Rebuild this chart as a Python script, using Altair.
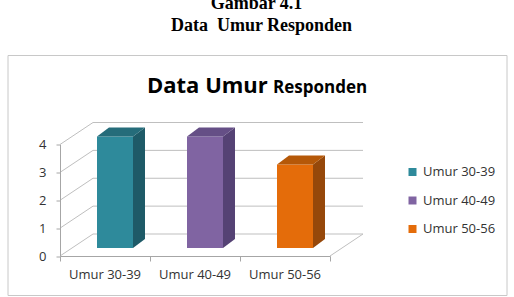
import altair as alt
import pandas as pd

# ---- data ----
categories = ["Umur 30-39", "Umur 40-49", "Umur 50-56"]
values = [4, 4, 3]
front_colors = ["#2E8A9B", "#8064A2", "#E46C0A"]
top_colors = ["#256C7A", "#654F86", "#B55808"]
side_colors = ["#1E5A67", "#554274", "#96480A"]
y_ticks = [0, 1, 2, 3, 4]
page_title = ["Gambar 4.1", "Data\u00a0 Umur Responden"]
chart_title = ["Data Umur", "Responden"]

# ---- geometry (styling, not data) ----
W, H = 270, 111.5
PADL, PADT = 60, 144.5
PX = W / 3.0
PY = H / 4.0
HALF = 0.2
SX, SY = 12 / PX, 9 / PY
BAR_DX, BAR_DY = 10, -8
WALL_DX, WALL_DY = 33, -22
AXIS_COL = "#A6A6A6"
GRID_COL = "#BFBFBF"
TXT_COL = "#333333"
FONT = "Open Sans"

pos = list(range(1, len(categories) + 1))
bars = pd.DataFrame({"cat": categories, "pos": pos, "value": values,
                     "front": front_colors, "side": side_colors, "top": top_colors})
bars["x0"] = bars["pos"] - HALF
bars["x1"] = bars["pos"] + HALF

side_rows, top_rows = [], []
for _, r in bars.iterrows():
    for e in (0, 1):
        side_rows.append({"cat": r["cat"], "side": r["side"], "x": r["x1"] + e * SX,
                          "y": r["value"] + e * SY, "y2": 0 + e * SY})
        top_rows.append({"cat": r["cat"], "top": r["top"], "y": r["value"] + e * SY,
                         "xa": r["x0"] + e * SX, "xb": r["x1"] + e * SX})
side_df = pd.DataFrame(side_rows)
top_df = pd.DataFrame(top_rows)
grid_df = pd.DataFrame({"v": y_ticks})
one = pd.DataFrame({"k": [0]})

xs = alt.Scale(domain=[0.5, len(categories) + 0.5], nice=False, zero=False)
ys = alt.Scale(domain=[0, 4], nice=False, zero=False)
xaxis = alt.Axis(values=[0.5, 1.5, 2.5, 3.5], labels=False, tickSize=5,
                 domainColor=AXIS_COL, tickColor=AXIS_COL, grid=False, title=None, zindex=1)
yaxis = alt.Axis(values=y_ticks, tickSize=4, labelPadding=10, labelFont=FONT,
                 labelFontSize=13, labelColor=TXT_COL, domainColor=AXIS_COL,
                 tickColor=AXIS_COL, grid=False, title=None, format="d", zindex=1)

frame = alt.Chart(one).mark_rect(filled=False, stroke="#C8C8C8", strokeWidth=1).encode(
    x=alt.value(8 - PADL), x2=alt.value(507 - PADL),
    y=alt.value(55.5 - PADT), y2=alt.value(295.5 - PADT))

t_page1 = alt.Chart(one).mark_text(font="Liberation Serif", fontWeight="bold", fontSize=18,
                                   align="center", baseline="alphabetic", color="black").encode(
    x=alt.value(256.5 - PADL), y=alt.value(8.5 - PADT), text=alt.value(page_title[0]))
t_page2 = alt.Chart(one).mark_text(font="Liberation Serif", fontWeight="bold", fontSize=18,
                                   align="center", baseline="alphabetic", color="black").encode(
    x=alt.value(261.5 - PADL), y=alt.value(30.5 - PADT), text=alt.value(page_title[1]))
t_ch1 = alt.Chart(one).mark_text(font=FONT, fontWeight="bold", fontSize=22,
                                 align="left", baseline="alphabetic", color="black").encode(
    x=alt.value(147 - PADL), y=alt.value(92.7 - PADT), text=alt.value(chart_title[0]))
t_ch2 = alt.Chart(one).mark_text(font=FONT, fontWeight="bold", fontSize=17,
                                 align="left", baseline="alphabetic", color="black").encode(
    x=alt.value(273 - PADL), y=alt.value(92.7 - PADT), text=alt.value(chart_title[1]))

# side wall diagonals
diag = alt.Chart(grid_df).mark_rule(color=GRID_COL, strokeWidth=1,
                                    x2Offset=WALL_DX, y2Offset=WALL_DY).encode(
    x=alt.X(datum=0.5, scale=xs, axis=xaxis), x2=alt.X2(datum=0.5),
    y=alt.Y("v:Q", scale=ys, axis=yaxis), y2="v:Q")

# back wall gridlines
back = alt.Chart(grid_df).mark_rule(color=GRID_COL, strokeWidth=1,
                                    xOffset=WALL_DX, x2Offset=WALL_DX,
                                    yOffset=WALL_DY, y2Offset=WALL_DY).encode(
    x=alt.X(datum=0.5, scale=xs, axis=xaxis),
    x2=alt.X2(datum=len(categories) + 0.5),
    y=alt.Y("v:Q", scale=ys, axis=yaxis))

floor = alt.Chart(one).mark_rule(color=GRID_COL, strokeWidth=1,
                                 x2Offset=WALL_DX, y2Offset=WALL_DY).encode(
    x=alt.X(datum=len(categories) + 0.5, scale=xs, axis=xaxis),
    x2=alt.X2(datum=len(categories) + 0.5),
    y=alt.Y(datum=0, scale=ys, axis=yaxis), y2=alt.Y2(datum=0))

front = alt.Chart(bars).mark_rect(xOffset=BAR_DX, x2Offset=BAR_DX,
                                  yOffset=BAR_DY, y2Offset=BAR_DY).encode(
    x=alt.X("x0:Q", scale=xs, axis=xaxis), x2="x1:Q",
    y=alt.Y("value:Q", scale=ys, axis=yaxis), y2=alt.Y2(datum=0),
    color=alt.Color("cat:N", scale=alt.Scale(domain=categories, range=front_colors),
                    legend=alt.Legend(orient="none", legendX=346, legendY=21, title=None,
                                      symbolType="square", symbolSize=64, symbolStrokeWidth=0,
                                      labelFont=FONT, labelFontSize=13, labelColor=TXT_COL,
                                      labelOffset=4, rowPadding=14.5, padding=0)))

side = alt.Chart(side_df).mark_area(orient="vertical", xOffset=BAR_DX,
                                    yOffset=BAR_DY, y2Offset=BAR_DY).encode(
    x=alt.X("x:Q", scale=xs, axis=xaxis),
    y=alt.Y("y:Q", scale=ys, axis=yaxis), y2="y2:Q",
    detail="cat:N",
    color=alt.Color("side:N", scale=None))

top = alt.Chart(top_df).mark_area(orient="horizontal", xOffset=BAR_DX, x2Offset=BAR_DX,
                                  yOffset=BAR_DY).encode(
    y=alt.Y("y:Q", scale=ys, axis=yaxis),
    x=alt.X("xa:Q", scale=xs, axis=xaxis), x2="xb:Q",
    detail="cat:N",
    color=alt.Color("top:N", scale=None))

labels = alt.Chart(bars).mark_text(font=FONT, fontSize=13, color=TXT_COL,
                                   align="center", baseline="middle").encode(
    x=alt.X("pos:Q", scale=xs, axis=xaxis),
    y=alt.value(275 - PADT),
    text="cat:N")

chart = alt.layer(frame, t_page1, t_page2, t_ch1, t_ch2, diag, back, floor,
                  front, side, top, labels).properties(
    width=W, height=H,
    autosize=alt.AutoSizeParams(type="none"),
    padding={"left": PADL, "top": PADT, "right": 514 - PADL - W, "bottom": 297 - PADT - H},
    background="white",
).configure_view(strokeWidth=0)

chart.save("out.html", embed_options={"renderer": "svg", "actions": False})
